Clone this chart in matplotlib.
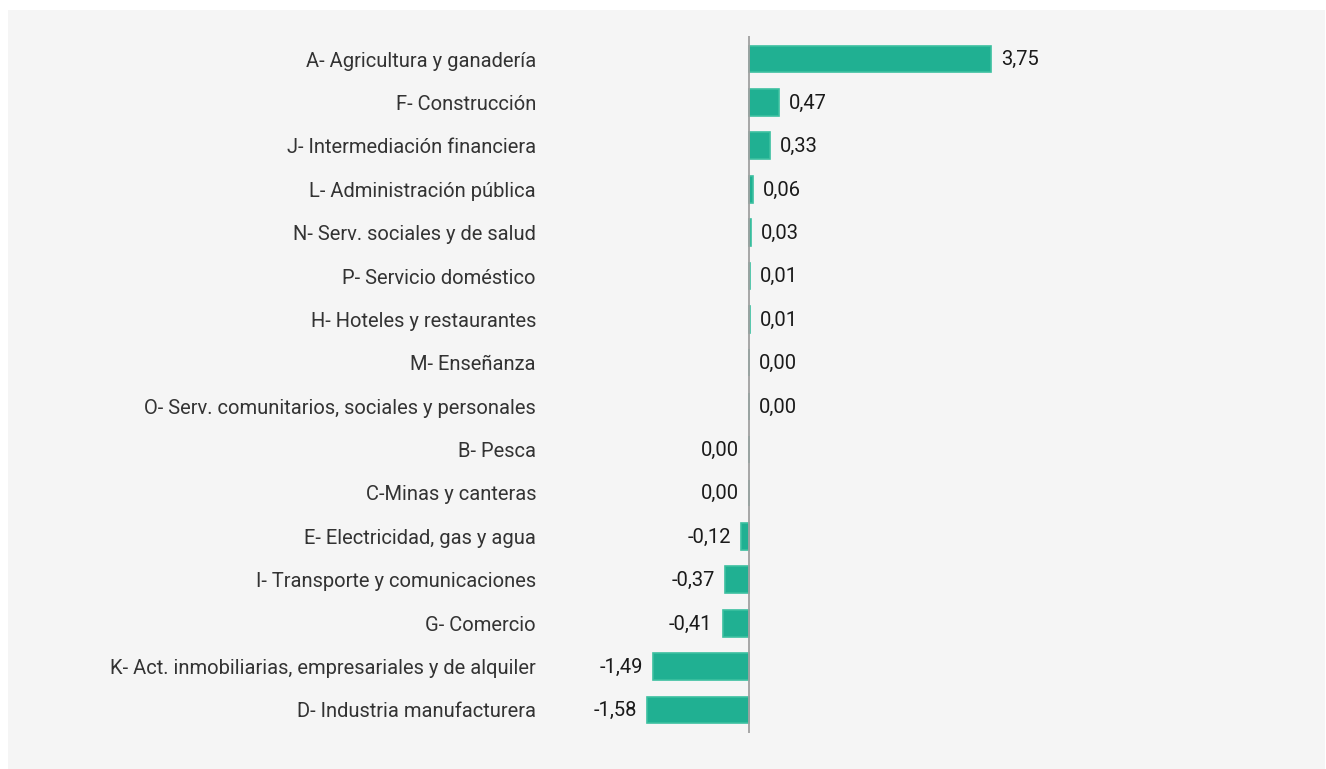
import matplotlib.pyplot as plt
from matplotlib.patches import Rectangle

plt.rcParams['font.family'] = ['Roboto', 'DejaVu Sans']

categories = [
    "A- Agricultura y ganadería",
    "F- Construcción",
    "J- Intermediación financiera",
    "L- Administración pública",
    "N- Serv. sociales y de salud",
    "P- Servicio doméstico",
    "H- Hoteles y restaurantes",
    "M- Enseñanza",
    "O- Serv. comunitarios, sociales y personales",
    "B- Pesca",
    "C-Minas y canteras",
    "E- Electricidad, gas y agua",
    "I- Transporte y comunicaciones",
    "G- Comercio",
    "K- Act. inmobiliarias, empresariales y de alquiler",
    "D- Industria manufacturera",
]
values = [3.75, 0.47, 0.33, 0.06, 0.03, 0.01, 0.01, 0.004, 0.004,
          -0.001, -0.001, -0.12, -0.37, -0.41, -1.49, -1.58]

W, H = 1326, 769
fig = plt.figure(figsize=(W / 100, H / 100), dpi=100)
fig.patch.set_facecolor("white")
fig.patches.append(Rectangle((8 / W, 0), (W - 1) / W - 8 / W, (H - 10) / H,
                             transform=fig.transFigure, facecolor="#f5f5f5",
                             edgecolor="none", zorder=-5))

# axes: x 600..1100 px, y 36..733 px
ax_l, ax_r, ax_t, ax_b = 600, 1100, 36, 733
ax = fig.add_axes([ax_l / W, 1 - ax_b / H, (ax_r - ax_l) / W, (ax_b - ax_t) / H])
ax.set_facecolor("none")
ax.set_zorder(2)

scale = 64.6  # px per unit
x0 = 749
ax.set_xlim(-(x0 - ax_l) / scale, (ax_r - x0) / scale)
n = len(categories)
pad_rows = 0.53
ax.set_ylim(n - 1 + pad_rows, -pad_rows)

y = list(range(n))
ax.barh(y, values, height=0.62, color="#20b092", edgecolor="#3cc0a0", linewidth=1.2, zorder=2)
ax.axvline(0, color="#a0a0a0", linewidth=1.3, zorder=3)

for yi, v in zip(y, values):
    txt = f"{v:.2f}".replace(".", ",")
    if txt == "-0,00":
        txt = "0,00"
    off = 10 / scale
    if v >= 0:
        ax.text(v + off, yi + 0.02, txt, va="center", ha="left", fontsize=14.5,
                color="#1a1a1a")
    else:
        ax.text(v - off, yi + 0.02, txt, va="center", ha="right", fontsize=14.5,
                color="#1a1a1a")

ax.set_yticks(y)
ax.set_yticklabels(categories, fontsize=14.5, color="#333333")
ax.tick_params(axis="y", length=0, pad=(ax_l - 536) * 0.72)
ax.set_xticks([])
for s in ax.spines.values():
    s.set_visible(False)

fig.savefig("out.png", dpi=100)
